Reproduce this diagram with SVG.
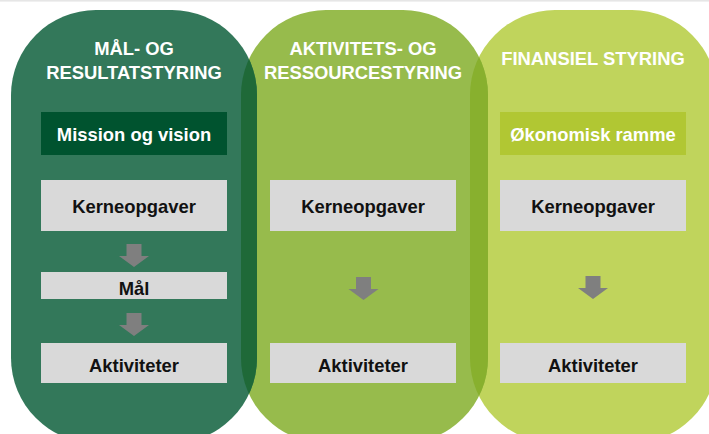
<svg xmlns="http://www.w3.org/2000/svg" width="709" height="434" viewBox="0 0 709 434">
  <style>
    .hdr { font-family: "Liberation Sans", Arial, sans-serif; font-weight: bold; font-size: 18.4px; fill: #ffffff; text-anchor: middle; }
    .lbl { font-family: "Liberation Sans", Arial, sans-serif; font-weight: bold; font-size: 18.4px; fill: #111111; text-anchor: middle; }
    .lbl-w { fill: #ffffff; }
    .box { fill: #d9d9d9; }
    .arrow { fill: #7f7f7f; }
  </style>
  <defs>
    <clipPath id="clipA"><rect x="11" y="10" width="246" height="433" rx="85"/></clipPath>
    <clipPath id="clipB"><rect x="241" y="10" width="247" height="433" rx="85"/></clipPath>
    <!-- downward block arrow, drawn from its top edge -->
    <path id="downArrow" d="M-7.5,0 H7.5 V12 H15 L0,23 L-15,12 H-7.5 Z"/>
  </defs>

  <rect x="0" y="0" width="709" height="434" fill="#ffffff"/>
  <rect x="0" y="0" width="709" height="1.6" fill="#e6e6e6"/>

  <!-- column backgrounds -->
  <g id="col-finansiel">
    <rect x="470" y="10" width="247" height="433" rx="85" fill="#c0d45c"/>
    <text class="hdr" x="593" y="65">FINANSIEL STYRING</text>
  </g>
  <g id="col-aktivitet">
    <rect x="241" y="10" width="247" height="433" rx="85" fill="#97bb4c"/>
    <rect x="470" y="10" width="247" height="433" rx="85" fill="#88b02e" clip-path="url(#clipB)"/>
    <text class="hdr" x="363" y="55">AKTIVITETS- OG</text>
    <text class="hdr" x="363" y="79">RESSOURCESTYRING</text>
  </g>
  <g id="col-maal">
    <rect x="11" y="10" width="246" height="433" rx="85" fill="#33785a"/>
    <rect x="241" y="10" width="247" height="433" rx="85" fill="#1f6938" clip-path="url(#clipA)"/>
    <text class="hdr" x="134" y="55">MÅL- OG</text>
    <text class="hdr" x="134" y="79">RESULTATSTYRING</text>
  </g>

  <!-- column 1 boxes -->
  <g id="mission">
    <rect x="41" y="112" width="186" height="43" fill="#00532f"/>
    <text class="lbl lbl-w" x="134" y="141">Mission og vision</text>
  </g>
  <g id="kerne-1">
    <rect class="box" x="41" y="180" width="186" height="51"/>
    <text class="lbl" x="134" y="213">Kerneopgaver</text>
  </g>
  <g id="maal">
    <rect class="box" x="41" y="272" width="186" height="27"/>
    <text class="lbl" x="134" y="295">Mål</text>
  </g>
  <g id="aktiviteter-1">
    <rect class="box" x="41" y="343" width="186" height="40"/>
    <text class="lbl" x="134" y="372">Aktiviteter</text>
  </g>

  <!-- column 2 boxes -->
  <g id="kerne-2">
    <rect class="box" x="270" y="180" width="186" height="51"/>
    <text class="lbl" x="363" y="213">Kerneopgaver</text>
  </g>
  <g id="aktiviteter-2">
    <rect class="box" x="270" y="343" width="186" height="40"/>
    <text class="lbl" x="363" y="372">Aktiviteter</text>
  </g>

  <!-- column 3 boxes -->
  <g id="oekonomi">
    <rect x="500" y="112" width="186" height="43" fill="#b1c733"/>
    <text class="lbl lbl-w" x="593" y="141">Økonomisk ramme</text>
  </g>
  <g id="kerne-3">
    <rect class="box" x="500" y="180" width="186" height="51"/>
    <text class="lbl" x="593" y="213">Kerneopgaver</text>
  </g>
  <g id="aktiviteter-3">
    <rect class="box" x="500" y="343" width="186" height="40"/>
    <text class="lbl" x="593" y="372">Aktiviteter</text>
  </g>

  <!-- connectors -->
  <g id="connectors" class="arrow">
    <use href="#downArrow" x="134" y="244"/>
    <use href="#downArrow" x="134" y="313"/>
    <use href="#downArrow" x="363.5" y="277"/>
    <use href="#downArrow" x="593" y="276"/>
  </g>
</svg>
